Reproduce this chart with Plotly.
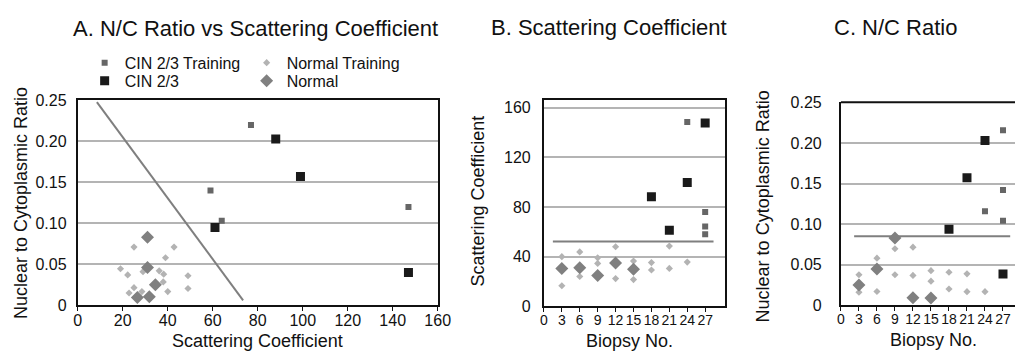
import plotly.graph_objects as go

# ---------------- Data ----------------
# Panel A: N/C ratio vs scattering coefficient
a_cin_train_x = [77, 59, 64, 147]
a_cin_train_y = [0.22, 0.14, 0.103, 0.12]
a_cin_x = [88, 99, 61, 147]
a_cin_y = [0.203, 0.157, 0.095, 0.040]
a_norm_train_x = [25, 42.8, 39, 19, 22.2, 29, 36.2, 38.2, 49, 25, 38, 22.8, 28.5, 40, 49]
a_norm_train_y = [0.071, 0.071, 0.058, 0.0446, 0.037, 0.041, 0.042, 0.038, 0.036,
                  0.0215, 0.0285, 0.015, 0.0167, 0.0167, 0.0205]
a_norm_x = [31, 31, 34.5, 26.5, 31.8]
a_norm_y = [0.083, 0.046, 0.025, 0.0095, 0.0105]
a_line_x = [8.5, 73.5]
a_line_y = [0.248, 0.006]

# Panel B: scattering coefficient by biopsy
b_norm_train_x = [3, 3, 6, 6, 9, 9, 12, 12, 15, 15, 18, 18, 21, 21, 24]
b_norm_train_y = [40, 16.5, 43.8, 24, 39, 34.5, 48, 22.3, 36.4, 21.5, 35.2, 29.2, 48.5, 30.5, 35.6]
b_norm_x = [3, 6, 9, 12, 15]
b_norm_y = [30.5, 31, 24.8, 34.9, 29.8]
b_cin_train_x = [24, 27, 27, 27]
b_cin_train_y = [148.5, 76, 64.4, 58]
b_cin_x = [18, 21, 24, 27]
b_cin_y = [88.2, 61.3, 99.8, 147.7]
b_line_x = [1.5, 28.4]
b_line_y = [52.3, 52.3]

# Panel C: N/C ratio by biopsy
c_norm_train_x = [3, 3, 6, 6, 9, 9, 12, 12, 15, 15, 18, 18, 21, 21, 24]
c_norm_train_y = [0.0376, 0.016, 0.058, 0.017, 0.0696, 0.0376, 0.0716, 0.0368, 0.0426,
                  0.0297, 0.0407, 0.020, 0.0387, 0.0168, 0.0168]
c_norm_x = [3, 6, 9, 12, 15]
c_norm_y = [0.025, 0.0446, 0.083, 0.0094, 0.009]
c_cin_train_x = [24, 27, 27, 27]
c_cin_train_y = [0.1158, 0.2156, 0.142, 0.104]
c_cin_x = [18, 21, 24, 27]
c_cin_y = [0.0935, 0.157, 0.203, 0.0384]
c_line_x = [2.2, 28.2]
c_line_y = [0.085, 0.085]

a_yticks = [0, 0.05, 0.10, 0.15, 0.20, 0.25]
a_ytick_text = ["0", "0.05", "0.10", "0.15", "0.20", "0.25"]
a_xticks = [0, 20, 40, 60, 80, 100, 120, 140, 160]
b_yticks = [0, 40, 80, 120, 160]
biopsy_ticks = [0, 3, 6, 9, 12, 15, 18, 21, 24, 27]

# ---------------- Styles ----------------
C_CIN_TRAIN = "#666666"
C_CIN = "#1a1a1a"
C_NORM_TRAIN = "#b3b3b3"
C_NORM = "#808080"
C_LINE = "#7f7f7f"
C_GRID = "#b4b4b4"
FONT = "Liberation Sans, Arial, sans-serif"

W, H = 1028, 360


def px_x(p):
    return p / W


def px_y(p):
    return 1 - p / H


fig = go.Figure()


def add_panel(xa, ya, ct_x, ct_y, c_x, c_y, nt_x, nt_y, n_x, n_y, lx, ly, legend):
    show = legend
    fig.add_trace(go.Scatter(x=lx, y=ly, mode="lines", line=dict(color=C_LINE, width=2),
                             xaxis=xa, yaxis=ya, showlegend=False, hoverinfo="skip"))
    fig.add_trace(go.Scatter(x=nt_x, y=nt_y, mode="markers", name="Normal Training",
                             marker=dict(symbol="diamond", size=5.5, color=C_NORM_TRAIN),
                             xaxis=xa, yaxis=ya, showlegend=show, legend="legend"))
    fig.add_trace(go.Scatter(x=n_x, y=n_y, mode="markers", name="Normal",
                             marker=dict(symbol="diamond", size=10, color=C_NORM),
                             xaxis=xa, yaxis=ya, showlegend=show, legend="legend2"))
    fig.add_trace(go.Scatter(x=ct_x, y=ct_y, mode="markers", name="CIN 2/3 Training",
                             marker=dict(symbol="square", size=6, color=C_CIN_TRAIN),
                             xaxis=xa, yaxis=ya, showlegend=show, legend="legend"))
    fig.add_trace(go.Scatter(x=c_x, y=c_y, mode="markers", name="CIN 2/3",
                             marker=dict(symbol="square", size=9, color=C_CIN),
                             xaxis=xa, yaxis=ya, showlegend=show, legend="legend2"))


add_panel("x", "y", a_cin_train_x, a_cin_train_y, a_cin_x, a_cin_y,
          a_norm_train_x, a_norm_train_y, a_norm_x, a_norm_y, a_line_x, a_line_y, True)
add_panel("x2", "y2", b_cin_train_x, b_cin_train_y, b_cin_x, b_cin_y,
          b_norm_train_x, b_norm_train_y, b_norm_x, b_norm_y, b_line_x, b_line_y, False)
add_panel("x3", "y3", c_cin_train_x, c_cin_train_y, c_cin_x, c_cin_y,
          c_norm_train_x, c_norm_train_y, c_norm_x, c_norm_y, c_line_x, c_line_y, False)

tickfont = dict(family=FONT, size=16, color="#111111")
biopsy_font = dict(family=FONT, size=14, color="#111111")
xbase = dict(showgrid=False, zeroline=False, showline=True, linecolor="#111111", linewidth=2,
             ticks="outside", ticklen=4, tickcolor="#111111", tickwidth=1,
             tickangle=0, ticklabelstandoff=-4, fixedrange=True)
ycommon = dict(showgrid=True, gridcolor=C_GRID, gridwidth=1.5, zeroline=False, showline=True,
               linecolor="#111111", linewidth=2, ticks="", tickfont=tickfont, fixedrange=True)

legend_font = dict(family=FONT, size=16, color="#111111")

fig.update_layout(
    width=W, height=H, margin=dict(l=0, r=0, t=0, b=0),
    paper_bgcolor="white", plot_bgcolor="white",
    font=dict(family=FONT, color="#111111"),
    xaxis=dict(domain=[px_x(75), px_x(441)], range=[0, 160], tickvals=a_xticks,
               mirror=True, anchor="y", tickfont=tickfont, **xbase),
    yaxis=dict(domain=[px_y(312), px_y(97)], range=[0, 0.25], tickvals=a_yticks,
               ticktext=a_ytick_text, mirror=True, anchor="x", ticklabelstandoff=6, **ycommon),
    xaxis2=dict(domain=[px_x(549), px_x(733)], range=[0, 30.3], tickvals=biopsy_ticks,
                mirror=True, anchor="y2", tickfont=biopsy_font, **xbase),
    yaxis2=dict(domain=[px_y(313), px_y(97)], range=[0, 166], tickvals=b_yticks,
                mirror=True, anchor="x2", ticklabelstandoff=8, **ycommon),
    xaxis3=dict(domain=[px_x(851), 1.0], range=[0, 29], tickvals=biopsy_ticks,
                anchor="y3", tickfont=biopsy_font, **xbase),
    yaxis3=dict(domain=[px_y(312), px_y(99)], range=[0, 0.25], tickvals=a_yticks,
                ticktext=a_ytick_text, anchor="x3", ticklabelstandoff=14, **ycommon),
    legend=dict(orientation="h", x=px_x(82), xanchor="left", y=px_y(57.5), yanchor="middle",
                font=legend_font, entrywidth=117, entrywidthmode="pixels",
                bgcolor="rgba(0,0,0,0)", traceorder="reversed"),
    legend2=dict(orientation="h", x=px_x(82), xanchor="left", y=px_y(76.5), yanchor="middle",
                 font=legend_font, entrywidth=117, entrywidthmode="pixels",
                 bgcolor="rgba(0,0,0,0)", traceorder="reversed"),
    showlegend=True,
)

# top border of panel C (the right side is cut off by the image edge)
fig.add_shape(type="line", xref="x3 domain", yref="y3 domain", x0=0, x1=1, y0=1, y1=1,
              line=dict(color="#111111", width=2))

ann_font = dict(family=FONT, size=18, color="#111111")
title_font = dict(family=FONT, size=22, color="#111111")
annotations = [
    dict(text="A. N/C Ratio vs Scattering Coefficient", x=px_x(256), y=px_y(22), font=title_font),
    dict(text="B. Scattering Coefficient", x=px_x(615), y=px_y(20), font=title_font),
    dict(text="C. N/C Ratio", x=px_x(906), y=px_y(20), font=title_font),
    dict(text="Scattering Coefficient", x=px_x(258), y=px_y(350), font=ann_font),
    dict(text="Biopsy No.", x=px_x(636), y=px_y(349), font=ann_font),
    dict(text="Biopsy No.", x=px_x(945), y=px_y(348), font=ann_font),
    dict(text="Nuclear to Cytoplasmic Ratio", x=px_x(18), y=px_y(205), font=ann_font, textangle=-90),
    dict(text="Scattering Coefficient", x=px_x(482), y=px_y(203), font=ann_font, textangle=-90),
    dict(text="Nuclear to Cytoplasmic Ratio", x=px_x(772), y=px_y(208), font=ann_font, textangle=-90),
]
for a in annotations:
    fig.add_annotation(xref="paper", yref="paper", showarrow=False,
                       xanchor="center", yanchor="middle", **a)

fig.write_html("out.html")
